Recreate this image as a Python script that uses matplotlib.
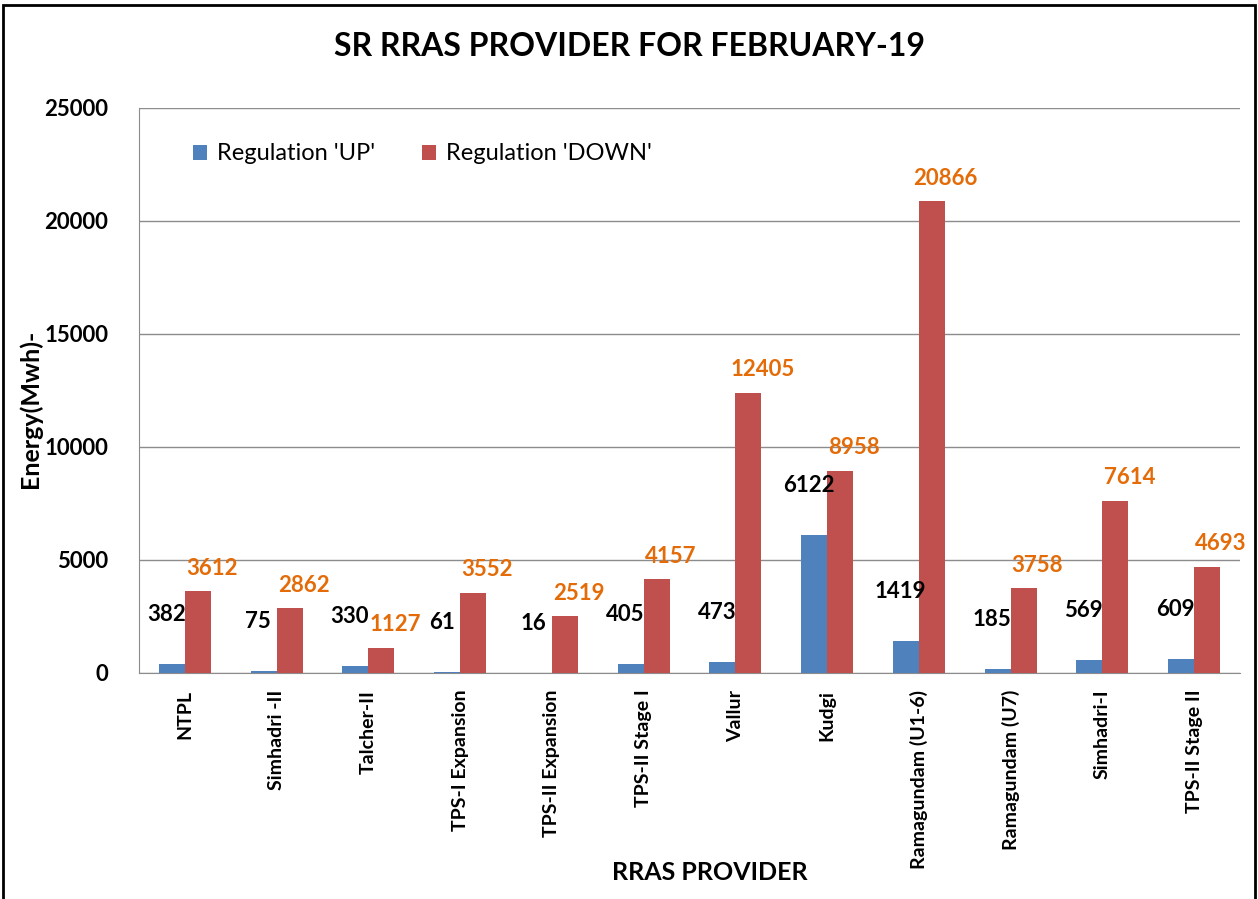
"""
    SR RRAS provider chart, February-19
"""

import numpy as np
from matplotlib import pyplot as plt
from matplotlib.patches import Rectangle

providers = ["NTPL", "Simhadri -II", "Talcher-II", "TPS-I Expansion",
             "TPS-II Expansion", "TPS-II Stage I", "Vallur", "Kudgi",
             "Ramagundam (U1-6)", "Ramagundam (U7)", "Simhadri-I",
             "TPS-II Stage II"]
reg_up = [382, 75, 330, 61, 16, 405, 473, 6122, 1419, 185, 569, 609]
reg_down = [3612, 2862, 1127, 3552, 2519, 4157, 12405, 8958, 20866, 3758, 7614, 4693]
y_ticks = [0, 5000, 10000, 15000, 20000, 25000]

BLUE = "#4F81BD"
RED = "#C0504D"
ORANGE = "#E36C09"

plt.rcParams['font.family'] = ['Lato', 'DejaVu Sans']

fig = plt.figure(figsize=(12.58, 8.99), dpi=100)
ax = fig.add_axes([0.1105, 0.2514, 0.8752, 0.6285])

x = np.arange(len(providers))
w = 0.283
ax.bar(x - w / 2, reg_up, w, color=BLUE, label="Regulation 'UP'", zorder=3)
ax.bar(x + w / 2, reg_down, w, color=RED, label="Regulation 'DOWN'", zorder=3)

# data labels
for i in range(len(providers)):
    ax.annotate(str(reg_up[i]), (x[i] - w / 2, reg_up[i]), xytext=(-4, 28),
                textcoords="offset points", ha="center", va="bottom",
                fontsize=16, fontweight="bold", color="black", zorder=4)
    ax.annotate(str(reg_down[i]), (x[i] + w / 2, reg_down[i]), xytext=(10, 9),
                textcoords="offset points", ha="center", va="bottom",
                fontsize=16, fontweight="bold", color=ORANGE, zorder=4)

ax.set_xlim(-0.5, len(providers) - 0.5)
ax.set_ylim(0, 25000)
ax.set_yticks(y_ticks)
ax.set_yticklabels([str(t) for t in y_ticks], fontsize=16, fontweight="bold")
ax.set_xticks(x)
ax.set_xticklabels(providers, rotation=90, fontsize=14, fontweight="bold")
ax.tick_params(axis="x", length=0, pad=12)
ax.tick_params(axis="y", length=0, pad=22)

ax.grid(axis="y", color="#8C8C8C", linewidth=1, zorder=0)
for s in ["top", "right"]:
    ax.spines[s].set_visible(False)
ax.spines["left"].set_color("#8C8C8C")
ax.spines["bottom"].set_color("#8C8C8C")

fig.text(0.024, 0.545, "Energy(Mwh)-", rotation=90, ha="center", va="center",
         fontsize=18, fontweight="bold")
fig.text(0.564, 0.030, "RRAS PROVIDER", ha="center", va="center",
         fontsize=18, fontweight="bold")
fig.text(0.5, 0.948, "SR RRAS PROVIDER FOR FEBRUARY-19", ha="center", va="center",
         fontsize=23, fontweight="bold")

ax.legend(loc="upper left", bbox_to_anchor=(0.03, 0.975), ncol=2, frameon=False,
          fontsize=17, handlelength=0.6, handleheight=0.6, columnspacing=2.0,
          handletextpad=0.4)

# chart border
fig.patches.append(Rectangle((0.002, -0.05), 0.996, 1.044, transform=fig.transFigure,
                             fill=False, edgecolor="black", linewidth=2))

plt.savefig("out.png", dpi=100)
